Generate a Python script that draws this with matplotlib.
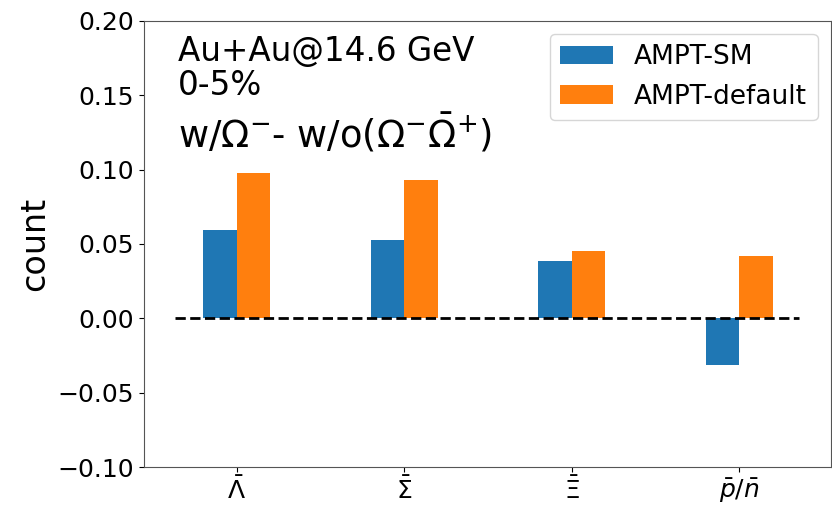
import numpy as np
import matplotlib
matplotlib.use('Agg')
import matplotlib.pyplot as plt

# difference w/ Omega- minus w/o Omega-, Omega-bar+, Au+Au 14.6 GeV, 0-5%
labels = [r'$\bar{\Lambda}$', r'$\bar{\Sigma}$', r'$\bar{\Xi}$', r'$\bar{p}/\bar{n}$']
ampt_sm = [0.0596, 0.0525, 0.0385, -0.0314]
ampt_default = [0.0976, 0.0930, 0.0450, 0.0417]

x = np.arange(len(labels))
w = 0.2

fig = plt.figure(figsize=(8.32, 5.07), dpi=100)
ax = fig.add_axes([0.1725, 0.0783, 0.826, 0.881])

ax.bar(x - w/2, ampt_sm, w, color='tab:blue', label='AMPT-SM')
ax.bar(x + w/2, ampt_default, w, color='tab:orange', label='AMPT-default')
ax.hlines(0, -0.37, 3.36, colors='k', linestyles='--', linewidth=2)

ax.set_xlim(-0.558, 3.547)
ax.set_ylim(-0.10, 0.20)
ax.set_yticks(np.arange(-0.10, 0.201, 0.05))
ax.set_xticks(x)
ax.set_xticklabels(labels)
ax.tick_params(labelsize=18)
ax.set_ylabel('count', fontsize=24)

ax.text(0.05, 0.8336, 'Au+Au@14.6 GeV\n0-5%', transform=ax.transAxes,
        fontsize=23.5, va='baseline', ha='left', linespacing=1.05)
ax.text(0.05, 0.717, r'w/$\Omega^{-}$- w/o($\Omega^{-}\bar{\Omega}^{+}$)',
        transform=ax.transAxes, fontsize=26.6, va='baseline', ha='left')
ax.legend(loc='upper right', fontsize=19)

for s in ax.spines.values():
    s.set_color('#555555')

fig.savefig('out.png', dpi=100)
